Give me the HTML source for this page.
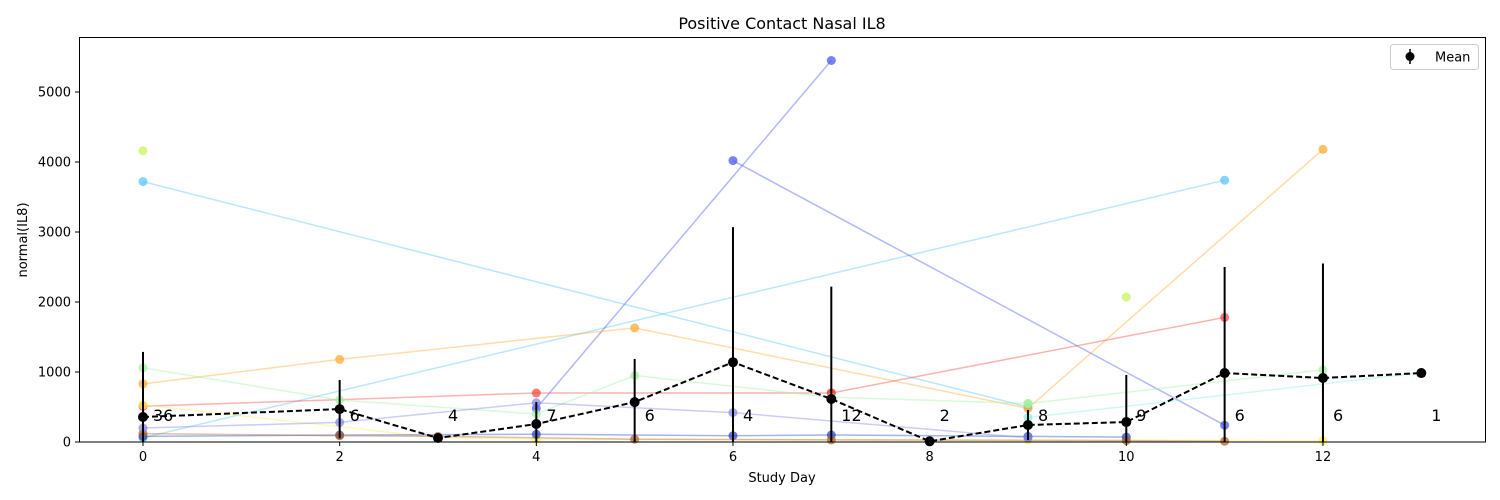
<!DOCTYPE html>
<html><head><meta charset="utf-8">
<style>
html,body{margin:0;padding:0;background:#fff;}
svg{display:block;font-family:"DejaVu Sans","Liberation Sans",sans-serif;}
</style></head>
<body>
<svg id="chart" width="1500" height="500" viewBox="0 0 1500 500">
<rect width="1500" height="500" fill="#fff"/>
<text x="782" y="29" font-size="16" text-anchor="middle">Positive Contact Nasal IL8</text>
<text x="782" y="482" font-size="13" text-anchor="middle">Study Day</text>
<text x="27" y="240" font-size="13" text-anchor="middle" transform="rotate(-90 27 240)">normal(IL8)</text>
<g id="subjects"></g>
<g id="meanG"></g>
<g id="axes"></g>
<rect x="79.5" y="37.5" width="1406" height="404.5" fill="none" stroke="#000" stroke-width="1"/>
<g>
<rect x="1390.5" y="44.5" width="88" height="25" rx="3" fill="#fff" stroke="#ccc"/>
<line x1="1410" y1="49" x2="1410" y2="64" stroke="#000" stroke-width="1.5"/>
<circle cx="1410" cy="56.5" r="4.5" fill="#000"/>
<text x="1435" y="61.5" font-size="13">Mean</text>
</g>
</svg>
<script>
const meanDays=[0,2,3,4,5,6,7,8,9,10,11,12,13];
const meanVals=[357,470,57,257,570,1140,614,10,243,285,985,914,985];
const errUp=[930,416,30,313,616,1930,1606,15,214,672,1515,1636,0];
const counts=[36,6,4,7,6,4,12,2,8,9,6,6,1];
const xTicks=[0,2,4,6,8,10,12];
const yTicks=[0,1000,2000,3000,4000,5000];
const subjColors=["#4fc3f7","#4fc3f7","#3a4ff0","#3a4ff0","#ffa726","#c6f24f","#c6f24f","#f44336","#f44336","#9cf29c","#9cf29c","#7ff2e0","#ffee58","#2040d0","#b06020","#8080f0"];
const subjDays=[[0,9],[0,11],[4,7],[6,11],[0,2,5,9,12],[0],[10],[7,11],[0,4,7],[0,2,4,5,7,9],[9,12],[9,13],[0,3,4,9,12],[0,2,4,6,7,9,10],[0,2,3,5,7,10,11],[0,2,4,6,9]];
const subjVals=[[3720,500],[60,3740],[480,5450],[4020,240],[830,1180,1630,480,4180],[4160],[2070],[700,1780],[510,700,700],[1060,600,400,950,640,550],[550,1030],[350,990],[530,60,40,30,20],[80,100,110,90,100,80,70],[120,90,80,40,30,20,10],[200,280,560,420,60]];
const X=d=>143+d*98.33;
const Y=v=>442-v*0.07;
const NS="http://www.w3.org/2000/svg";
function mk(tag,attrs,parent){const e=document.createElementNS(NS,tag);for(const k in attrs)e.setAttribute(k,attrs[k]);parent.appendChild(e);return e;}
const sg=document.getElementById('subjects');
subjDays.forEach((days,i)=>{
  const pts=days.map((d,j)=>X(d)+','+Y(subjVals[i][j])).join(' ');
  const pl=mk('polyline',{points:pts,fill:'none',stroke:subjColors[i],'stroke-width':1.5,'stroke-opacity':0.4},sg);
  
  
  days.forEach((d,j)=>{
    const c=mk('circle',{cx:X(d),cy:Y(subjVals[i][j]),r:4.5,fill:subjColors[i],'fill-opacity':0.7},sg);
    
    
  });
});
const mg=document.getElementById('meanG');
meanDays.forEach((d,i)=>{
  const top=Math.max(37,Y(meanVals[i]+errUp[i]));
  const bot=Math.min(442,Y(meanVals[i]-errUp[i]));
  if(errUp[i]>0){
    const l=mk('line',{x1:X(d),x2:X(d),y1:top,y2:bot,stroke:'#000','stroke-width':2},mg);
    
    
  }
});
const ml=mk('polyline',{points:meanDays.map((d,i)=>X(d)+','+Y(meanVals[i])).join(' '),fill:'none',stroke:'#000','stroke-width':2,'stroke-dasharray':'6,3'},mg);


meanDays.forEach((d,i)=>{
  const c=mk('circle',{cx:X(d),cy:Y(meanVals[i]),r:5,fill:'#000'},mg);
  
  
  const t=mk('text',{x:X(d)+10,y:421,'font-size':16},mg);
  t.textContent=counts[i];
  
  
});
const ag=document.getElementById('axes');
xTicks.forEach(v=>{
  const l=mk('line',{x1:X(v),x2:X(v),y1:442,y2:446,stroke:'#000'},ag);
  
  
  const t=mk('text',{x:X(v),y:461,'font-size':13,'text-anchor':'middle'},ag);
  t.textContent=v;
  
  
});
yTicks.forEach(v=>{
  const l=mk('line',{x1:75,x2:79.5,y1:Y(v),y2:Y(v),stroke:'#000'},ag);
  
  
  const t=mk('text',{x:71,y:Y(v)+4.5,'font-size':13,'text-anchor':'end'},ag);
  t.textContent=v;
  
  
});
</script>
</body></html>
